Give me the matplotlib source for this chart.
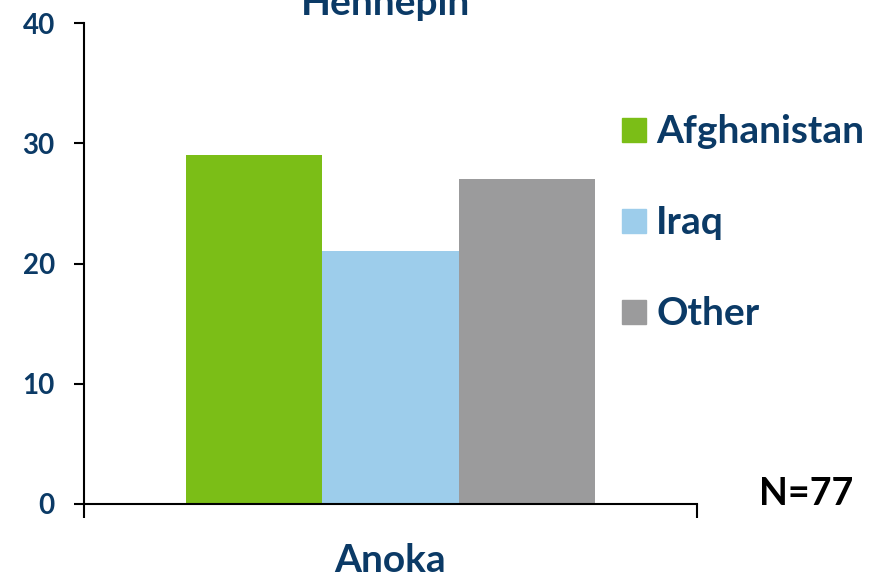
import matplotlib
matplotlib.use("Agg")
import matplotlib.pyplot as plt
from matplotlib.patches import Rectangle

categories = ["Anoka"]
series = ["Afghanistan", "Iraq", "Other"]
values = [29, 21, 27]
colors = ["#7BBE17", "#9DCDEB", "#9B9B9C"]
yticks = [0, 10, 20, 30, 40]
title = "Hennepin"
note = "N=77"

txt = "#0B3A66"
plt.rcParams['font.family'] = ['Lato', 'DejaVu Sans']
plt.rcParams['font.weight'] = 'bold'

W, H = 884, 579
fig = plt.figure(figsize=(W/100, H/100), dpi=100)
ax = fig.add_axes([84/W, 1-504/H, (697-84)/W, (504-23)/H])

n = len(series)
width = 0.667 / n
for i, (s, v, c) in enumerate(zip(series, values, colors)):
    ax.bar(0 + (i - (n-1)/2) * width, v, width=width, color=c, label=s, zorder=2)

ax.set_xlim(-0.5, 0.5)
ax.set_ylim(0, 40)
ax.set_yticks(yticks)
ax.set_yticklabels([str(t) for t in yticks], color=txt, fontsize=20, fontweight='bold')
ax.set_xticks([-0.5, 0.5])
ax.set_xticklabels(["", ""])
ax.tick_params(axis='x', direction='out', length=10, width=1.5, color='black')
ax.tick_params(axis='y', direction='out', length=7, width=1.5, color='black', pad=14)
ax.text(0.5, -0.081, categories[0], transform=ax.transAxes, ha='center', va='top',
        fontsize=28, fontweight='bold', color=txt)
for sp in ['top', 'right']:
    ax.spines[sp].set_visible(False)
ax.spines['left'].set_linewidth(1.5)
ax.spines['bottom'].set_linewidth(1.5)

fig.text(385/W, 1-15/H, title, ha='center', va='baseline', fontsize=28,
         fontweight='bold', color=txt)
fig.text(806/W, 1-494/H, note, ha='center', va='center', fontsize=27,
         fontweight='bold', color='black')

# legend
centers = [130, 221, 312]
sq = 24
for s, c, yc in zip(series, colors, centers):
    fig.patches.append(Rectangle((622/W, 1-(yc+sq/2)/H), sq/W, sq/H,
                                 transform=fig.transFigure, color=c, figure=fig))
    fig.text(656/W, 1-(yc+sq/2+1)/H, s, ha='left', va='baseline', fontsize=28,
             fontweight='bold', color=txt)

fig.savefig("out.png", dpi=100)
